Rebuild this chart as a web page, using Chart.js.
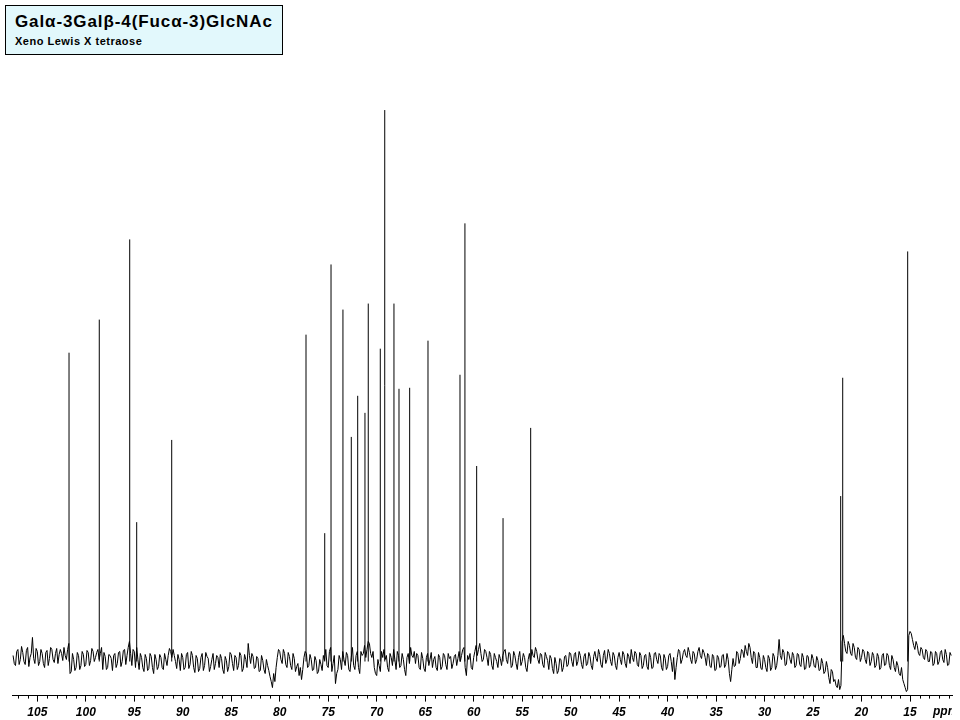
<!DOCTYPE html>
<html>
<head>
<meta charset="utf-8">
<script src="https://cdn.jsdelivr.net/npm/chart.js@4.4.1/dist/chart.umd.min.js"></script>
<style>
  html, body { margin: 0; padding: 0; background: #fff; }
  #wrap { position: relative; width: 960px; height: 720px; }
  #spec { position: absolute; left: 0; top: 0; }
  #title {
    position: absolute; left: 5px; top: 5px; width: 276px; height: 48px;
    border: 1px solid #000; background: #e2f8fc;
    font-family: "Liberation Sans", Arial, sans-serif; font-weight: bold; color: #000;
  }
  #title .l1 { position: absolute; left: 9px; top: 7px; font-size: 17px; line-height: 17px; letter-spacing: 0.9px; white-space: nowrap; }
  #title .l2 { position: absolute; left: 9px; top: 30px; font-size: 11px; line-height: 11px; letter-spacing: 0.5px; white-space: nowrap; }
</style>
</head>
<body>
<div id="wrap">
  <canvas id="spec" width="960" height="720"></canvas>
  <div id="title">
    <span class="l1">Galα-3Galβ-4(Fucα-3)GlcNAc</span>
    <span class="l2">Xeno Lewis X tetraose</span>
  </div>
</div>
<script>
// axis range in ppm (left edge -> right edge)
const ppmLeft = 107.61;
const ppmRight = 10.67;

// peak positions (ppm) and heights (arbitrary units, baseline = 0)
const peakPpm = [101.73, 98.61, 95.47, 94.75, 91.14, 77.29, 75.36, 74.71, 73.48, 72.62,
                 71.96, 71.21, 70.87, 69.63, 69.17, 68.22, 67.70, 66.60, 64.71, 61.41,
                 60.90, 59.69, 56.97, 54.12, 22.15, 21.94, 15.24];
const peakHeight = [308, 341, 421, 139, 221, 326, 128, 396, 351, 224,
                    265, 248, 357, 312, 550, 357, 272, 273, 320, 286,
                    437, 195, 143, 233, 165, 283, 409];

// baseline noise, one value every 0.25 ppm from 107.5 down
const noiseStart = 107.5;
const noiseStep = 0.25;
const noise = [
  6, -4, 12, 2, 9, -3, 14, 4, 24, -2, 10, 0, 8, -6, 11, 3, 12, -1, 13, 7,          // 107.5 - 102.75
  8, 14, 2, 18, -10, 2, -6, 6, -4, 7, -3, 9, 1, 10, 4, 12, 8, -8, 5, -6,           // 102.5 - 97.75
  6, -9, 8, -2, 10, 0, 12, 6, 20, -4, 10, 14, -8, 4, -10, 3, -7, 5, -12, 2,        // 97.5 - 92.75
  -5, 4, -8, 2, 6, 10, 12, 0, 7, -9, 4, -6, 9, -3, 6, -11, 3, -7, 8, -4,           // 92.5 - 87.75
  5, -10, 2, -8, 6, -6, 3, -12, 1, -5, 7, -9, 4, -4, 6, -7, 2, 18, -2, 5,          // 87.5 - 82.75
  -6, 3, -9, 1, -12, -4, -15, -26, -20, 4, 10, -2, 8, -6, 5, -8, 3, -5, -14, -18,  // 82.5 - 77.75
  4, 8, -4, 2, -8, 1, -10, -3, 6, 12, -6, 14, -2, -22, -8, 2, 10, -4, 6, -10,      // 77.5 - 72.75
  14, -8, 10, -12, 6, 16, 12, 18, 4, -6, -14, -4, 10, 12, 6, -10, 4, 12, -8, 6,    // 72.5 - 67.75
  -4, 2, -14, 8, 14, 4, -2, 6, -8, 3, -10, 8, 2, -6, 5, -9, 4, -5, 6, -8,          // 67.5 - 62.75
  3, -7, 5, -4, 10, 6, 14, -14, 2, -6, 4, 16, 12, 8, 2, 10, -4, 7, -8, 4,          // 62.5 - 57.75
  -6, 3, 6, 12, -2, 8, -4, 6, -8, 10, 0, 4, -10, 8, 12, 4, 10, -2, 7, -6,          // 57.5 - 52.75
  5, -8, 3, -12, -2, -9, 2, -6, 6, -3, 8, -5, 9, 0, 6, -7, 8, -2, 5, -8,           // 52.5 - 47.75
  10, 0, 7, -6, 11, 2, 8, -4, 6, -8, 9, -3, 7, -6, 5, 12, 0, 8, -5, 6,             // 47.5 - 42.75
  -4, 7, -8, 4, -6, 9, -2, 6, -9, 3, -5, 8, -10, -18, 4, 10, 2, 12, 4, 9,          // 42.5 - 37.75
  -2, 8, 2, 14, 3, 9, -4, 6, -6, 5, -8, 4, -5, 7, -3, 2, -20, 3, -4, 8,            // 37.5 - 32.75
  3, 10, 16, 6, 14, -2, 8, -6, 4, -8, 2, -10, 3, -6, 5, -4, 22, 2, 9, -3,          // 32.5 - 27.75
  8, -2, 6, -4, 7, -5, 4, -7, 5, -3, 3, -6, 1, -8, -2, -10, -6, -22, -10, -18,     // 27.5 - 22.75
  -26, -28, 20, 18, 8, 16, 6, 14, 2, 12, 4, 10, -2, 8, 0, 6, -4, 5, -6, 8,         // 22.5 - 17.75
  -3, 6, -8, 2, -10, -4, -14, -18, -26, -28, 30, 22, 12, 16, 6, 12, 2, 10, 0, 9,   // 17.5 - 12.75
  -2, 8, 0, 11, -1, 7, -3, 6                                                       // 12.5 - 10.75
];

// readings half way between the points above (107.375, 107.125, ...)
const noiseMid = [
  -2, 10, -3, 15, 0, 11, -5, 8, 3, 13, -4, 12, -2, 9, -4, 14, 2, 8, -2, 12,
  1, 6, 12, -12, 8, -9, 9, -8, 10, -5, 11, -4, 13, 0, 9, 2, 14, 9, -8, 7,
  3, 6, -6, 9, -5, 11, -3, 14, 8, 12, -6, 2, 8, -6, 7, -9, 8, -6, 7, -8,
  7, -6, 8, -4, 13, 4, 6, -7, 2, 8, -8, 7, -7, 10, -6, 6, -10, 4, -9, 9,
  3, -5, 8, -2, 4, 7, -8, 5, -10, 9, -2, 6, -8, 9, -10, 7, -6, 6, 8, -7,
  5, -10, 6, -8, 2, -9, -20, -12, -6, 12, 2, 12, -3, 9, -4, 8, -10, -2, -6, -8,
  10, -6, 7, -9, 5, -12, 2, -9, 1, -4, 10, -10, 6, -12, 6, -8, 2, 9, -8, 4,
  -4, 6, -6, 10, 8, 4, 20, 8, 10, -12, 2, -10, 4, 2, -6, 8, -4, 2, 10, -6,
  8, -8, 4, -2, 6, 10, 8, -6, 9, -7, 4, -4, 9, 2, -6, 7, -8, 8, -3, 8,
  5, -2, 7, 3, 0, 12, -6, 6, 8, -8, 10, 6, 18, 0, 12, 4, 10, -4, 8, 0,
  7, -4, 10, 2, 9, -6, 10, -2, 4, -4, 8, -6, 2, -2, 6, 14, 2, 8, -3, 9,
  1, 6, -7, 4, -12, 3, -10, 5, -5, 9, 0, 7, -4, 10, -3, 5, -4, 9, -4, 5,
  3, 12, -3, 6, -2, 12, 0, 9, -4, 4, 2, 10, -2, 8, -2, 4, 10, -3, 9, -7,
  6, -5, 9, -7, 8, 2, 8, -6, 7, -8, 6, 0, 4, -6, 12, -2, 9, 6, 14, 2,
  10, -2, 10, 6, 12, 4, 8, -5, 7, -9, 6, -6, 6, -6, 8, -12, -8, -5, 10, -2,
  12, 4, 10, 18, 4, 10, -6, 9, -7, 6, -6, 6, -9, 8, -8, 6, 6, 12, -4, 10,
  2, 9, -6, 8, -3, 8, -8, 6, -6, 7, -5, 5, -9, 3, -12, 0, -16, -8, -20, -24,
  -18, -24, 26, 10, 20, 8, 18, 4, 14, 0, 12, 2, 10, -4, 9, -6, 8, -8, 6, -4,
  8, -4, 6, -6, 0, -12, -6, -22, -30, 26, 28, 16, 20, 8, 14, 4, 12, 0, 10, -4,
  10, -3, 9, 2, 12, -4, 9
];

const noiseData = [];
noise.forEach((v, i) => {
  noiseData.push({ x: noiseStart - i * noiseStep, y: v });
  if (i < noiseMid.length) noiseData.push({ x: noiseStart - (i + 0.5) * noiseStep, y: noiseMid[i] });
});

// each peak is a vertical stroke from the baseline, broken by a gap
const peakData = [];
peakPpm.forEach((p, i) => {
  peakData.push({ x: p, y: 0 }, { x: p, y: peakHeight[i] }, { x: p, y: null });
});

const minorTicks = {
  id: 'minorTicks',
  afterDraw(chart) {
    const ctx = chart.ctx;
    const xs = chart.scales.x;
    const bottom = chart.chartArea.bottom;
    ctx.save();
    ctx.strokeStyle = '#000';
    ctx.lineWidth = 1;
    ctx.beginPath();
    for (let v = Math.ceil(ppmRight); v <= Math.floor(ppmLeft); v++) {
      if (v % 5 === 0) continue;
      const px = Math.round(xs.getPixelForValue(v)) + 0.5;
      ctx.moveTo(px, bottom);
      ctx.lineTo(px, bottom + 3);
    }
    ctx.stroke();
    // unit label, cut off by the frame edge like the original
    ctx.beginPath();
    ctx.rect(0, 0, chart.chartArea.right, chart.height);
    ctx.clip();
    ctx.fillStyle = '#000';
    ctx.font = 'italic bold 12px "Liberation Sans", Arial, sans-serif';
    ctx.textBaseline = 'top';
    ctx.textAlign = 'left';
    ctx.fillText('ppm', 933, bottom + 10);
    ctx.restore();
  }
};

new Chart(document.getElementById('spec'), {
  type: 'line',
  data: {
    datasets: [
      { data: noiseData, borderColor: '#000', borderWidth: 1, pointRadius: 0, tension: 0 },
      { data: peakData, borderColor: '#000', borderWidth: 1, pointRadius: 0, tension: 0, spanGaps: false }
    ]
  },
  options: {
    responsive: false,
    animation: false,
    events: [],
    layout: { padding: { left: 12, right: 8, top: 90, bottom: -4 } },
    scales: {
      x: {
        type: 'linear',
        reverse: true,
        min: ppmRight,
        max: ppmLeft,
        afterBuildTicks: scale => {
          scale.ticks = scale.ticks.filter(t => Math.abs(t.value % 5) < 1e-6);
        },
        ticks: {
          stepSize: 5,
          includeBounds: false,
          autoSkip: false,
          maxRotation: 0,
          padding: 4,
          color: '#000',
          font: { family: '"Liberation Sans", Arial, sans-serif', size: 12, style: 'italic', weight: 'bold' }
        },
        grid: { drawOnChartArea: false, tickLength: 6, color: '#000' },
        border: { display: true, color: '#000', width: 1 }
      },
      y: {
        display: false,
        min: -34,
        max: 570
      }
    },
    plugins: {
      legend: { display: false },
      tooltip: { enabled: false }
    }
  },
  plugins: [minorTicks]
});
</script>
</body>
</html>
